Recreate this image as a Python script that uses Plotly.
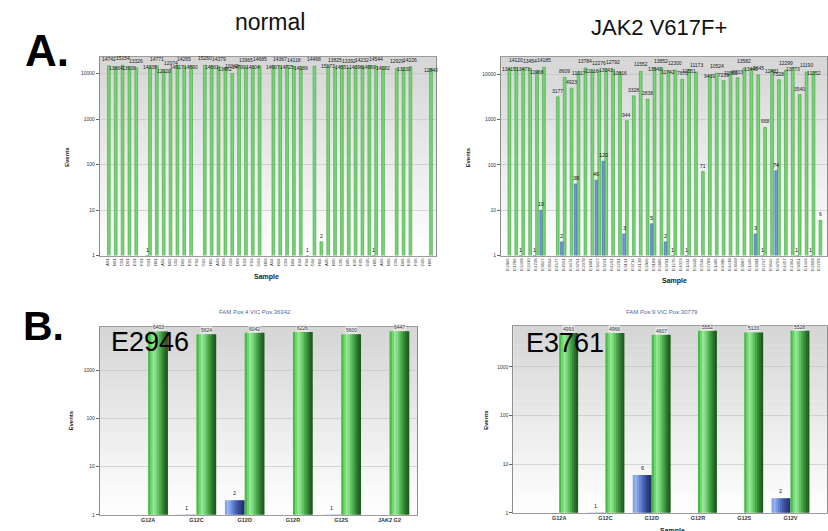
import math
import plotly.graph_objects as go

W, H = 828, 531

# ---------------- data ----------------
TL_SAMPLES = ["A01", "B01", "C01", "D01", "E01", "F01", "G01", "H01",
              "A02", "B02", "C02", "D02", "E02", "F02", "G02", "H02",
              "A03", "B03", "C03", "D03", "E03", "F03", "G03", "H03",
              "A04", "B04", "C04", "D04", "E04", "F04", "G04", "H04",
              "A05", "B05", "C05", "D05", "E05", "F05", "G05", "H05",
              "A06", "B06", "C06", "D06", "E06", "F06", "G06", "H06"]
TL_VIC = [14742, 13664, 15154, 13938, 13326, None, 14338, 14771, 12020, 12074,
          14917, 14265, 14590, None, 15260, 14561, 14379, 13482, 10042, 14790,
          13965, 14304, 14685, None, 14907, 14367, 14725, 14118, 14189, 1,
          14468, 2, 15173, 13825, 14551, 13392, 14396, 14232, 14960, 14544,
          14182, None, 12929, 13230, 14226, None, None, 12840]
TL_FAM = [None, None, None, None, None, None, 1, None, None, None,
          None, None, None, None, None, None, None, None, None, None,
          None, None, None, None, None, None, None, None, None, None,
          None, None, None, None, None, None, None, None, None, 1,
          None, None, None, None, None, None, None, None]

TR_SAMPLES = ["E2946", "E1786", "E2409", "E2430", "E4748", "E3827", "E3554", "E4577",
              "E4551", "E3474", "E3761", "E2079", "E1881", "E3427", "E3741", "E4261",
              "E2781", "E3131", "E3714", "E4139", "E2946", "E3189", "E2886", "E3791",
              "E1276", "E4023", "E1434", "E3448", "E2534", "E2789", "E1486", "E4096",
              "E4419", "E3569", "E3887", "E1446", "E3391", "E2747", "E3642", "E3763",
              "E4457", "E2364", "E3051", "E1443", "E2869", "E2703"]
TR_VIC = [13415, 14120, 13473, 13454, 11968, 14185, None, 3177, 8609, 4923,
          11217, 13784, 12116, 12276, 13143, 12792, 10916, 944, 3328, 11552,
          2838, 13940, 13852, 11742, 12300, 7673, 12551, 11173, 71, 9439,
          10524, 7239, 11365, 8303, 13582, 13440, 9645, 668, 12481, 7528,
          12299, 13773, 3540, 11190, 11252, 6]
TR_FAM = [None, None, 1, None, 1, 10, None, None, 2, None,
          38, None, None, 46, 120, None, None, 3, None, None,
          None, 5, None, 2, 1, None, 1, None, None, None,
          None, None, None, None, None, None, 3, 1, None, 74,
          None, None, 1, None, 1, None]

BL_TARGETS = ["G12A", "G12C", "G12D", "G12R", "G12S", "JAK2 G2"]
BL_VIC = [6403, 5624, 6042, 6226, 5600, 6447]
BL_FAM = [None, 1, 2, None, 1, None]
BL_TITLE = "FAM Pos:4 VIC Pos:36342"
BL_SAMPLE = "E2946"

BR_TARGETS = ["G12A", "G12C", "G12D", "G12R", "G12S", "G12V"]
BR_VIC = [4993, 4966, 4607, 5552, 5133, 5528]
BR_FAM = [None, 1, 6, None, None, 2]
BR_TITLE = "FAM Pos:9 VIC Pos:30779"
BR_SAMPLE = "E3761"

DECADES = [1, 10, 100, 1000, 10000]

# ---------------- style ----------------
FONT = "Liberation Sans"
SMALL = dict(family=FONT, size=5, color="#222222")
G_STRIPS = ["#46bb46", "#70d670", "#95e795", "#80da80", "#62c362",
            "#4aa84a", "#388c38", "#296f29", "#1e5b1e"]
B_STRIPS = ["#86a3ea", "#98b2ef", "#7d9be1", "#6684d1", "#516dbe",
            "#4158a7", "#334690", "#293b7c", "#21316b"]


def px(x):
    return x / W


def py(y):
    return 1 - y / H


fig = go.Figure()


def top_bars(xa, ya, vic, fam):
    idx = list(range(len(vic)))
    fig.add_trace(go.Bar(x=idx, y=fam, offset=-0.4, width=0.4, xaxis=xa, yaxis=ya,
                         marker=dict(color="#7394e4", line=dict(color="#3e5cb4", width=0.6))))
    fig.add_trace(go.Bar(x=idx, y=vic, offset=0.0, width=0.4, xaxis=xa, yaxis=ya,
                         marker=dict(color="#76d676", line=dict(color="#3f9f3f", width=0.6))))


def bottom_bars(xa, ya, vic, fam):
    idx = list(range(len(vic)))
    bw = 0.41
    n = len(G_STRIPS)
    step = bw / n
    for k, c in enumerate(B_STRIPS):
        wdt = step * 1.25 if k < n - 1 else step
        fig.add_trace(go.Bar(x=idx, y=fam, offset=-bw + k * step, width=wdt,
                             xaxis=xa, yaxis=ya, marker=dict(color=c, line=dict(width=0))))
    for k, c in enumerate(G_STRIPS):
        wdt = step * 1.25 if k < n - 1 else step
        fig.add_trace(go.Bar(x=idx, y=vic, offset=k * step, width=wdt,
                             xaxis=xa, yaxis=ya, marker=dict(color=c, line=dict(width=0))))


annotations = []


def top_labels(xa, ya, vic, fam, start_high):
    k = 0 if start_high else 1
    for i, v in enumerate(vic):
        if v is None:
            continue
        if v >= 9000:
            ys = 2 if k % 2 == 0 else -6
            k += 1
        else:
            ys = 1
        annotations.append(dict(x=i + 0.2, y=math.log10(v), xref=xa, yref=ya, text=str(v),
                                showarrow=False, yanchor="bottom", yshift=ys, font=SMALL))
    for i, v in enumerate(fam):
        if v is None:
            continue
        annotations.append(dict(x=i - 0.2, y=math.log10(v), xref=xa, yref=ya, text=str(v),
                                showarrow=False, yanchor="bottom", yshift=1,
                                font=dict(family=FONT, size=5.5, color="#111111")))


def bottom_labels(xa, ya, vic, fam):
    for i, v in enumerate(vic):
        annotations.append(dict(x=i + 0.205, y=math.log10(v), xref=xa, yref=ya, text=str(v),
                                showarrow=False, yanchor="bottom", yshift=0,
                                bgcolor="rgba(238,238,238,0.9)", borderpad=0,
                                font=dict(family=FONT, size=5, color="#333333")))
    for i, v in enumerate(fam):
        if v is None:
            continue
        annotations.append(dict(x=i - 0.205, y=math.log10(v), xref=xa, yref=ya, text=str(v),
                                showarrow=False, yanchor="bottom", yshift=2,
                                font=dict(family=FONT, size=5.5, color="#222222")))


top_bars("x", "y", TL_VIC, TL_FAM)
top_bars("x2", "y2", TR_VIC, TR_FAM)
bottom_bars("x3", "y3", BL_VIC, BL_FAM)
bottom_bars("x4", "y4", BR_VIC, BR_FAM)
top_labels("x", "y", TL_VIC, TL_FAM, True)
top_labels("x2", "y2", TR_VIC, TR_FAM, False)
bottom_labels("x3", "y3", BL_VIC, BL_FAM)
bottom_labels("x4", "y4", BR_VIC, BR_FAM)

# background gradients
shapes = []
for xa, ya in [("x", "y"), ("x2", "y2"), ("x3", "y3"), ("x4", "y4")]:
    n = 30
    for i in range(n):
        t = (i + 0.5) / n  # 0 bottom -> 1 top
        g = int(round(255 - 42 * t))
        shapes.append(dict(type="rect", xref=f"{xa} domain", yref=f"{ya} domain",
                           x0=0, x1=1, y0=i / n, y1=(i + 1) / n + 0.002,
                           fillcolor=f"rgb({g},{g},{g})", line=dict(width=0), layer="below"))


def xaxis_cfg(domain, rng, labels, anchor, angle, fsize):
    return dict(domain=domain, range=rng, anchor=anchor,
                tickmode="array", tickvals=list(range(len(labels))), ticktext=labels,
                tickangle=angle, tickfont=dict(family=FONT, size=fsize, color="#333333"),
                showgrid=False, zeroline=False, showline=True, mirror=True,
                linecolor="#9c9c9c", linewidth=1, ticks="")


def yaxis_cfg(domain, rng, anchor):
    return dict(domain=domain, range=rng, anchor=anchor, type="log",
                tickmode="array", tickvals=DECADES, ticktext=[str(d) for d in DECADES],
                tickfont=dict(family=FONT, size=5, color="#333333"),
                ticks="outside", ticklen=3, tickcolor="#666666",
                showgrid=True, gridcolor="#c6c6c6", gridwidth=0.7, zeroline=False,
                showline=True, mirror=True, linecolor="#8c8c8c", linewidth=1)


layout_anns = [
    dict(x=px(270), y=py(22), text="normal", font=dict(family=FONT, size=23, color="#111111")),
    dict(x=px(660), y=py(28), text="JAK2 V617F+", font=dict(family=FONT, size=22, color="#111111")),
    dict(x=px(47), y=py(51), text="<b>A.</b>", font=dict(family=FONT, size=44, color="#000000")),
    dict(x=px(44), y=py(328), text="<b>B.</b>", font=dict(family=FONT, size=41, color="#000000")),
    dict(x=px(150), y=py(344), text=BL_SAMPLE, font=dict(family=FONT, size=27, color="#000000")),
    dict(x=px(566), y=py(345), text=BR_SAMPLE, font=dict(family=FONT, size=27, color="#000000")),
    dict(x=px(255), y=py(314), text=BL_TITLE, font=dict(family=FONT, size=6, color="#4a6b9c")),
    dict(x=px(663), y=py(314), text=BR_TITLE, font=dict(family=FONT, size=6, color="#4a6b9c")),
    dict(x=px(67), y=py(158), text="<b>Events</b>", textangle=-90, font=dict(family=FONT, size=6, color="#222222")),
    dict(x=px(469), y=py(158), text="<b>Events</b>", textangle=-90, font=dict(family=FONT, size=6, color="#222222")),
    dict(x=px(71), y=py(423), text="<b>Events</b>", textangle=-90, font=dict(family=FONT, size=6, color="#222222")),
    dict(x=px(486), y=py(422), text="<b>Events</b>", textangle=-90, font=dict(family=FONT, size=6, color="#222222")),
    dict(x=px(267), y=py(279), text="<b>Sample</b>", font=dict(family=FONT, size=7, color="#222222")),
    dict(x=px(675), y=py(283), text="<b>Sample</b>", font=dict(family=FONT, size=7, color="#222222")),
    dict(x=px(673), y=py(527.5), yanchor="top", text="<b>Sample</b>", font=dict(family=FONT, size=7, color="#222222")),
]
for a in layout_anns:
    a.update(xref="paper", yref="paper", showarrow=False)
    a.setdefault("yanchor", "middle")
    a.setdefault("xanchor", "center")

fig.update_layout(
    width=W, height=H, margin=dict(l=0, r=0, t=0, b=0),
    paper_bgcolor="white", plot_bgcolor="white", showlegend=False,
    barmode="overlay", hovermode=False,
    xaxis=xaxis_cfg([px(100), px(437)], [-1.11, 48.0], TL_SAMPLES, "y", -90, 4.3),
    yaxis=yaxis_cfg([py(257), py(57)], [0, 4.37], "x"),
    xaxis2=xaxis_cfg([px(501.7), 1.0], [-1.0, 46.15], TR_SAMPLES, "y2", -90, 4.3),
    yaxis2=yaxis_cfg([py(257), py(57.3)], [0, 4.38], "x2"),
    xaxis3=xaxis_cfg([px(100), px(418)], [-1.0, 5.58], BL_TARGETS, "y3", 0, 5.5),
    yaxis3=yaxis_cfg([py(517.7), py(329.3)], [0, 3.89], "x3"),
    xaxis4=xaxis_cfg([px(514), 1.0], [-0.99, 5.79], BR_TARGETS, "y4", 0, 5.5),
    yaxis4=yaxis_cfg([py(515.7), py(327.7)], [0, 3.845], "x4"),
    shapes=shapes,
    annotations=annotations + layout_anns,
)
for ax in ["xaxis3", "xaxis4"]:
    fig.layout[ax].tickfont = dict(family=FONT, size=5.5, color="#333333")
    fig.layout[ax].ticktext = [f"<b>{t}</b>" for t in fig.layout[ax].ticktext]

fig.write_html(
    "out.html",
    config={"displayModeBar": False, "staticPlot": True},
    post_script="document.body.style.margin='0px';document.body.style.overflow='hidden';",
)
